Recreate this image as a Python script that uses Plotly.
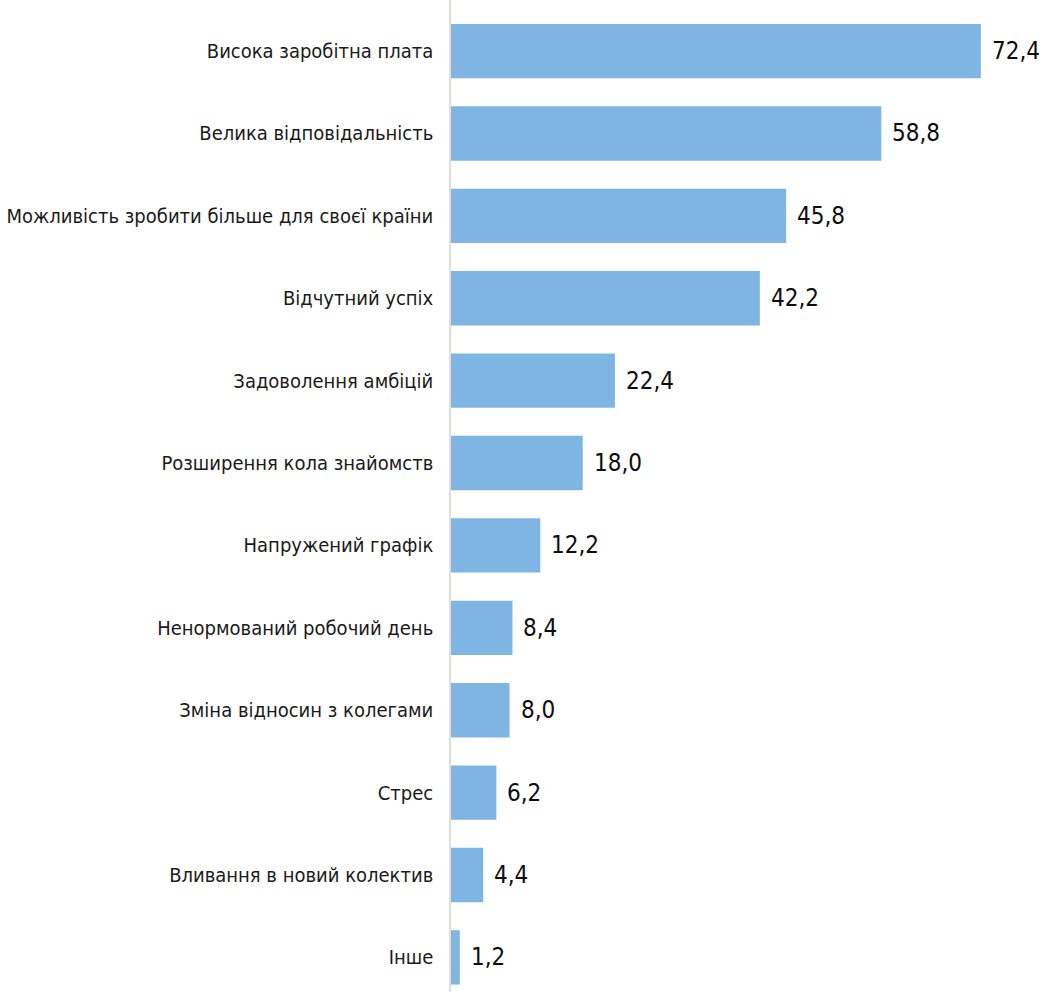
import plotly.graph_objects as go

# Survey answers and their shares (%)
categories = [
    "Висока заробітна плата",
    "Велика відповідальність",
    "Можливість зробити більше для своєї країни",
    "Відчутний успіх",
    "Задоволення амбіцій",
    "Розширення кола знайомств",
    "Напружений графік",
    "Ненормований робочий день",
    "Зміна відносин з колегами",
    "Стрес",
    "Вливання в новий колектив",
    "Інше",
]
values = [72.4, 58.8, 45.8, 42.2, 22.4, 18.0, 12.2, 8.4, 8.0, 6.2, 4.4, 1.2]

BAR_COLOR = "#7fb5e2"
LABEL_FONT = "DejaVu Sans Condensed, Liberation Sans Narrow, sans-serif"

fig = go.Figure(
    go.Bar(
        x=values,
        y=categories,
        orientation="h",
        marker=dict(color=BAR_COLOR, line=dict(width=0)),
        width=0.66,
        hoverinfo="x+y",
    )
)

# Value labels to the right of each bar, with a decimal comma
for cat, v in zip(categories, values):
    fig.add_annotation(
        x=v,
        y=cat,
        text=f"{v:.1f}".replace(".", ","),
        showarrow=False,
        xanchor="left",
        yanchor="middle",
        xshift=9,
        font=dict(family=LABEL_FONT, size=24, color="#0d0d0d"),
    )

fig.update_layout(
    width=1046,
    height=992,
    margin=dict(l=451, r=0, t=0, b=0, autoexpand=False),
    paper_bgcolor="white",
    plot_bgcolor="white",
    showlegend=False,
    bargap=0.34,
    xaxis=dict(
        range=[0, 81.3],
        visible=False,
        fixedrange=True,
    ),
    yaxis=dict(
        type="category",
        categoryorder="array",
        categoryarray=categories,
        range=[11.42, -0.62],
        automargin=False,
        showline=True,
        linecolor="#e2ded8",
        linewidth=1.5,
        showgrid=False,
        ticks="",
        ticklabelstandoff=12,
        tickfont=dict(family=LABEL_FONT, size=20, color="#1a1a1a"),
        fixedrange=True,
    ),
)

fig.write_html("out.html")
